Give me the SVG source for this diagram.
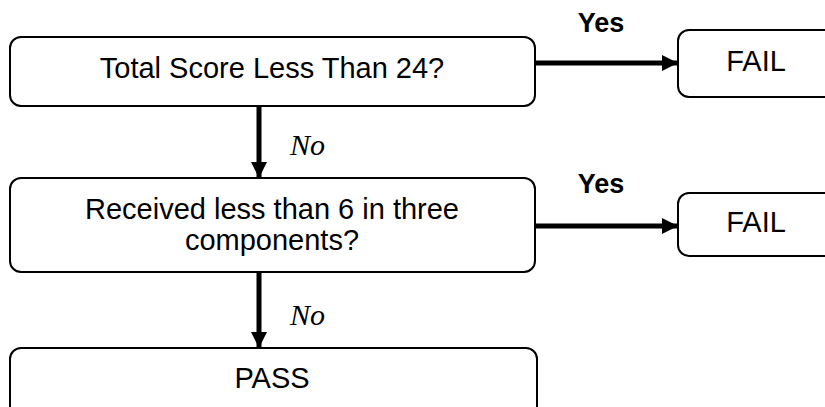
<svg xmlns="http://www.w3.org/2000/svg" width="825" height="407" viewBox="0 0 825 407">
<style>
.box{fill:#fff;stroke:#000;stroke-width:2}
.t{font-family:"Liberation Sans",Arial,sans-serif;font-size:29px;fill:#000;text-anchor:middle}
.yes{font-family:"Liberation Sans",Arial,sans-serif;font-size:27px;font-weight:bold;fill:#000;text-anchor:middle}
.no{font-family:"Liberation Serif","Times New Roman",serif;font-size:30px;font-style:italic;fill:#000}
.conn{stroke:#000;stroke-width:5;fill:none}
</style>
<defs>
<marker id="ah" viewBox="0 0 16 16" refX="16" refY="8" markerWidth="16" markerHeight="16" markerUnits="userSpaceOnUse" orient="auto">
<path d="M0,0 L16,8 L0,16 Z" fill="#000"/>
</marker>
</defs>
<g id="connectors">
<line class="conn" x1="535" y1="63" x2="678" y2="63" marker-end="url(#ah)"/>
<line class="conn" x1="535" y1="226" x2="678" y2="226" marker-end="url(#ah)"/>
<line class="conn" x1="259" y1="106" x2="259" y2="178" marker-end="url(#ah)"/>
<line class="conn" x1="259" y1="272" x2="259" y2="348" marker-end="url(#ah)"/>
<text class="yes" x="601" y="32">Yes</text>
<text class="yes" x="601" y="193">Yes</text>
<text class="no" x="290" y="155">No</text>
<text class="no" x="290" y="325">No</text>
</g>
<g id="n1">
<rect class="box" x="10" y="37" width="525" height="69" rx="11"/>
<text class="t" x="272" y="78">Total Score Less Than 24?</text>
</g>
<g id="fail1">
<rect class="box" x="678" y="30" width="170" height="67" rx="11"/>
<text class="t" x="756" y="71">FAIL</text>
</g>
<g id="n2">
<rect class="box" x="10" y="178" width="525" height="94" rx="11"/>
<text class="t" x="272" y="219">Received less than 6 in three</text>
<text class="t" x="272" y="250">components?</text>
</g>
<g id="fail2">
<rect class="box" x="678" y="193" width="170" height="63" rx="11"/>
<text class="t" x="756" y="232">FAIL</text>
</g>
<g id="pass">
<rect class="box" x="10" y="348" width="527" height="80" rx="11"/>
<text class="t" x="272" y="388">PASS</text>
</g>
</svg>
